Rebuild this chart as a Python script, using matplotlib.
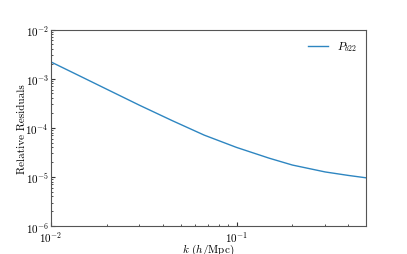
import numpy as np
import matplotlib.pyplot as plt

plt.rcParams['font.family'] = 'serif'
plt.rcParams['font.serif'] = ['cmr10', 'DejaVu Serif']
plt.rcParams['mathtext.fontset'] = 'cm'
plt.rcParams['axes.formatter.use_mathtext'] = True

# residuals
k = [0.01, 0.015, 0.02, 0.03, 0.045, 0.067, 0.1, 0.15, 0.2, 0.3, 0.4, 0.5]
resid = [2.2e-3, 1.04e-3, 6.1e-4, 2.88e-4, 1.40e-4, 7.08e-5, 3.98e-5,
         2.40e-5, 1.74e-5, 1.26e-5, 1.07e-5, 9.55e-6]
label = '$P_{b22}$'

fig, ax = plt.subplots(figsize=(4.07, 2.55), dpi=100)
ax.plot(k, resid, color='#2e86c1', lw=1.0, label=label)
ax.set_xscale('log')
ax.set_yscale('log')
ax.set_xlim(0.01, 0.5)
ax.set_ylim(1e-6, 1e-2)
ax.set_xlabel('$k$ ($h$/Mpc)', fontsize=8)
ax.set_ylabel('Relative Residuals', fontsize=8)
ax.xaxis.set_label_coords(0.5, -0.078)
ax.yaxis.set_label_coords(-0.077, 0.5)
ax.tick_params(which='both', direction='in', labelsize=8, color='#333333')
ax.tick_params(axis='y', pad=1.5)
ax.tick_params(axis='x', pad=2.5)
ax.tick_params(which='major', length=3)
ax.tick_params(which='minor', length=1.5)
for s in ax.spines.values():
    s.set_color('#555555')
ax.legend(frameon=False, fontsize=8, loc='upper right', handlelength=1.8)
fig.savefig('out.png', dpi=100)
